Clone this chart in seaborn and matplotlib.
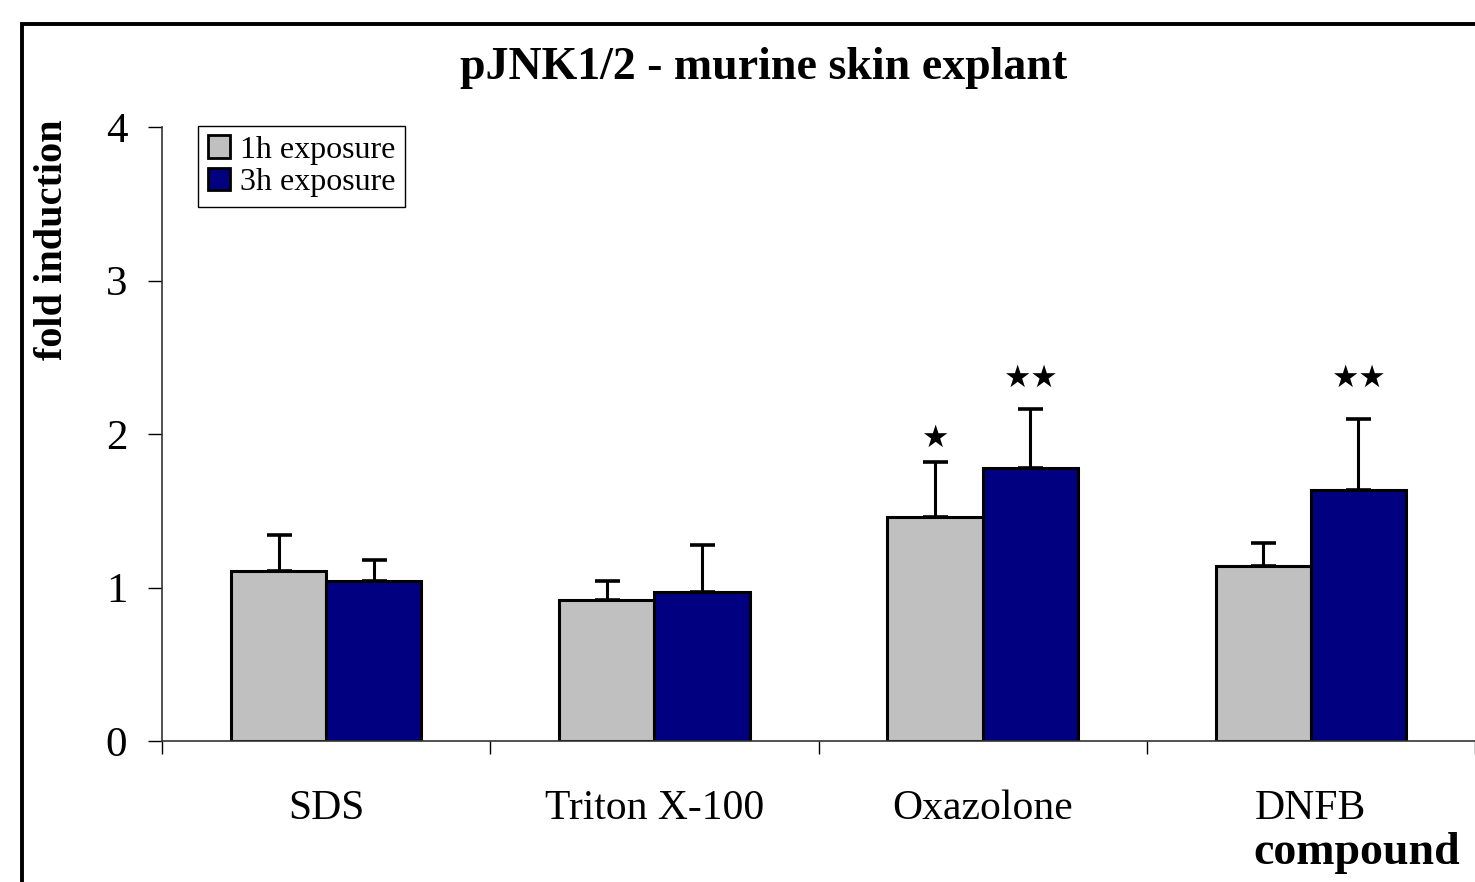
import matplotlib
matplotlib.use("Agg")
import matplotlib.pyplot as plt
from matplotlib.patches import Rectangle
import seaborn as sns
import pandas as pd

categories = ["SDS", "Triton X-100", "Oxazolone", "DNFB"]
series_names = ["1h exposure", "3h exposure"]
mean_1h = [1.11, 0.92, 1.46, 1.14]
mean_3h = [1.04, 0.97, 1.78, 1.635]
err_1h = [0.23, 0.12, 0.36, 0.15]
err_3h = [0.14, 0.31, 0.38, 0.465]
sig_1h = ["", "", "★", ""]
sig_3h = ["", "", "★★", "★★"]
yticks = [0, 1, 2, 3, 4]

sns.set_style("white")
plt.rcParams['font.family'] = ['Liberation Serif', 'DejaVu Sans']
plt.rcParams['text.color'] = 'black'
plt.rcParams['axes.labelcolor'] = 'black'
plt.rcParams['xtick.color'] = 'black'
plt.rcParams['ytick.color'] = 'black'

df = pd.DataFrame({
    "compound": categories * 2,
    "exposure": [series_names[0]] * 4 + [series_names[1]] * 4,
    "value": mean_1h + mean_3h,
})

W, H = 1475, 882
fig = plt.figure(figsize=(W / 100, H / 100), dpi=100)
ax = fig.add_axes([162 / W, 1 - 741 / H, 1 - 162 / W, (741 - 127) / H])

sns.barplot(data=df, x="compound", y="value", hue="exposure",
            palette=["#C0C0C0", "#000080"], width=0.58, gap=0,
            edgecolor="black", linewidth=2.2, errorbar=None, ax=ax,
            saturation=1)

errs = [err_1h, err_3h]
sigs = [sig_1h, sig_3h]
double_level = max(m + e for m, e in zip(mean_3h, err_3h)) + 0.2
bar_containers = list(ax.containers)
for k, cont in enumerate(bar_containers):
    for i, bar in enumerate(cont.patches):
        xc = bar.get_x() + bar.get_width() / 2
        h = bar.get_height()
        ax.errorbar(xc, h, yerr=[[0], [errs[k][i]]], fmt="none", ecolor="black",
                    elinewidth=2.2, capsize=9, capthick=2.6, zorder=1)
        s = sigs[k][i]
        if s:
            ys = double_level if len(s) > 1 else h + errs[k][i] + 0.15
            ax.text(xc, ys, s, ha="center", va="center", fontweight="bold",
                    fontsize=22, family="DejaVu Sans", color="black")

ax.set_xlim(-0.5, 3.5)
ax.set_ylim(0, 4)
ax.set_yticks(yticks)
ax.set_yticklabels([str(t) for t in yticks], fontsize=31)
ax.tick_params(axis="y", direction="out", length=10, width=1, pad=15, left=True)

ax.set_xticks([-0.5, 0.5, 1.5, 2.5, 3.5])
ax.set_xticklabels([])
ax.set_xticks(range(len(categories)), minor=True)
ax.set_xticklabels(categories, minor=True, fontsize=30)
ax.tick_params(axis="x", which="major", direction="out", length=9, width=1, bottom=True)
ax.tick_params(axis="x", which="minor", length=0, pad=35)

for s in ["top", "right"]:
    ax.spines[s].set_visible(False)
for s in ["left", "bottom"]:
    ax.spines[s].set_color("#333333")
    ax.spines[s].set_linewidth(1.2)

ax.set_xlabel("")
ax.set_ylabel("")

leg = ax.legend(loc="upper left", bbox_to_anchor=(36 / 1313, 1.002), fontsize=23,
                frameon=True, fancybox=False, edgecolor="black", framealpha=1,
                handlelength=0.7, handleheight=0.7, handletextpad=0.3,
                labelspacing=0.1, borderpad=0.3, borderaxespad=0)
leg.get_frame().set_linewidth(1)
for p in leg.get_patches():
    p.set_edgecolor("black")
    p.set_linewidth(2)

fig.text(0.518, 1 - 68 / H, "pJNK1/2 - murine skin explant", ha="center", va="center",
         fontsize=33, fontweight="bold")
fig.text(53 / W, 1 - 240 / H, "fold induction", rotation=90, ha="center", va="center",
         fontsize=29, fontweight="bold")
fig.text(1460 / W, 1 - 853 / H, "compound", ha="right", va="center",
         fontsize=33, fontweight="bold")

fig.patches.append(Rectangle((22 / W, -0.2), 1.5, 1 - 24 / H + 0.2,
                             transform=fig.transFigure, fill=False,
                             edgecolor="black", linewidth=2.8, clip_on=False))

fig.savefig("out.png", dpi=100)
